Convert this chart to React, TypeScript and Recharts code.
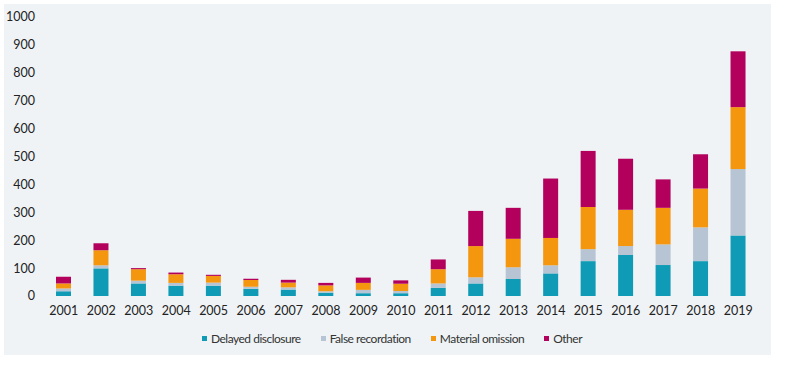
import { BarChart, Bar, XAxis, YAxis } from "recharts";

const years = [
  "2001", "2002", "2003", "2004", "2005", "2006", "2007", "2008", "2009", "2010",
  "2011", "2012", "2013", "2014", "2015", "2016", "2017", "2018", "2019",
];
const delayedDisclosure = [17, 99, 45, 37, 37, 26, 23, 12, 10, 10, 29, 45, 61, 81, 125, 147, 111, 125, 217];
const falseRecordation = [10, 11, 10, 10, 11, 7, 8, 5, 12, 8, 16, 22, 42, 29, 43, 32, 74, 121, 238];
const materialOmission = [18, 54, 41, 31, 24, 24, 17, 21, 25, 26, 51, 112, 102, 98, 151, 130, 131, 139, 222];
const other = [24, 25, 4, 6, 4, 5, 10, 9, 19, 12, 35, 126, 111, 213, 201, 183, 102, 123, 200];
const yTicks = [0, 100, 200, 300, 400, 500, 600, 700, 800, 900, 1000];

const series = [
  { key: "delayed", name: "Delayed disclosure", color: "#0f9bb5" },
  { key: "falseRec", name: "False recordation", color: "#b6c4d3" },
  { key: "material", name: "Material omission", color: "#f5960f" },
  { key: "other", name: "Other", color: "#b2005c" },
];

const data = years.map((year, i) => ({
  year,
  delayed: delayedDisclosure[i],
  falseRec: falseRecordation[i],
  material: materialOmission[i],
  other: other[i],
}));

const font = "Lato, 'DejaVu Sans', sans-serif";

export default function App() {
  return (
    <div style={{ position: "absolute", left: 0, top: 0, width: 800, height: 366, background: "#fff", fontFamily: font }}>
      <div style={{ position: "absolute", left: 4, top: 4, width: 767, height: 351, background: "#eff3f6" }} />
      <div style={{ position: "absolute", left: 0, top: 0 }}>
        <BarChart width={800} height={366} data={data} margin={{ top: 17, right: 43, bottom: 40, left: 0 }}>
          <XAxis
            dataKey="year"
            height={30}
            axisLine={false}
            tickLine={false}
            tickSize={0}
            tickMargin={10}
            interval={0}
            tick={{ fill: "#222", fontSize: 12.5, fontFamily: font }}
          />
          <YAxis
            width={45}
            domain={[0, 1000]}
            ticks={yTicks}
            axisLine={false}
            tickLine={false}
            tickSize={0}
            tickMargin={10}
            tick={{ fill: "#222", fontSize: 12.5, fontFamily: font }}
          />
          {series.map((s) => (
            <Bar key={s.key} dataKey={s.key} name={s.name} stackId="a" fill={s.color} barSize={15} isAnimationActive={false} />
          ))}
        </BarChart>
      </div>
      <div
        style={{
          position: "absolute",
          left: 0,
          top: 331,
          width: 784,
          display: "flex",
          justifyContent: "center",
          gap: 20,
          fontSize: 12,
          letterSpacing: -0.5,
          color: "#333",
        }}
      >
        {series.map((s) => (
          <div key={s.key} style={{ display: "flex", alignItems: "center" }}>
            <span style={{ display: "inline-block", width: 5, height: 5, background: s.color, marginRight: 4 }} />
            <span>{s.name}</span>
          </div>
        ))}
      </div>
    </div>
  );
}
